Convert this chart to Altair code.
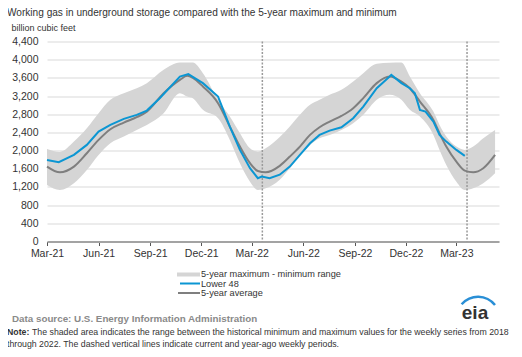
import altair as alt
import pandas as pd

FONT = "Liberation Sans"

# ---------------- data ----------------
dates_5yr = ["2021-03-01", "2021-03-24", "2021-04-18", "2021-05-11", "2021-06-01", "2021-06-22",
             "2021-07-16", "2021-08-08", "2021-08-26", "2021-09-25", "2021-10-24", "2021-11-06",
             "2021-11-16", "2021-12-04", "2021-12-31", "2022-01-21", "2022-02-08", "2022-02-26",
             "2022-03-12", "2022-03-26", "2022-04-20", "2022-05-08", "2022-05-26", "2022-06-13",
             "2022-06-30", "2022-07-18", "2022-08-08", "2022-08-29", "2022-09-16", "2022-10-10",
             "2022-11-02", "2022-11-23", "2022-12-08", "2022-12-26", "2023-01-19", "2023-01-30",
             "2023-02-11", "2023-03-01", "2023-03-16", "2023-03-31", "2023-04-18", "2023-05-09"]
avg_5yr = [1648, 1523, 1648, 1942, 2235, 2470, 2616, 2735, 2858, 3263, 3556, 3644,
           3600, 3409, 3043, 2528, 2088, 1722, 1552, 1523, 1665, 1868, 2088, 2345,
           2514, 2638, 2763, 2933, 3153, 3484, 3629, 3519, 3373, 3079, 2675, 2382,
           2088, 1758, 1560, 1523, 1612, 1905]
max_5yr = [2037, 1970, 2198, 2492, 2823, 3116, 3263, 3373, 3484, 3777, 3937, 3937,
           3937, 3704, 3116, 2748, 2382, 2052, 1977, 2052, 2300, 2528, 2786, 3006,
           3116, 3226, 3336, 3519, 3704, 3908, 3930, 3937, 3629, 3263, 2858, 2565,
           2308, 2088, 2015, 2088, 2272, 2455]
min_5yr = [1244, 1134, 1281, 1574, 1905, 2162, 2308, 2455, 2565, 2823, 3263, 3189,
           3150, 2896, 2712, 2235, 1722, 1317, 1134, 1171, 1360, 1612, 1905, 2125,
           2272, 2345, 2455, 2602, 2786, 3116, 3226, 3116, 2896, 2748, 2345, 2015,
           1685, 1317, 1134, 1171, 1281, 1501]

dates_l48 = ["2021-03-01", "2021-03-22", "2021-04-18", "2021-05-11", "2021-06-01", "2021-06-22",
             "2021-07-16", "2021-08-08", "2021-08-26", "2021-09-18", "2021-10-24", "2021-11-08",
             "2021-12-04", "2021-12-31", "2022-01-21", "2022-02-08", "2022-02-26", "2022-03-12",
             "2022-03-19", "2022-04-02", "2022-04-20", "2022-05-08", "2022-05-26", "2022-06-13",
             "2022-06-30", "2022-07-18", "2022-08-08", "2022-08-29", "2022-09-16", "2022-10-10",
             "2022-11-02", "2022-11-05", "2022-11-23", "2022-12-08", "2022-12-17", "2022-12-26",
             "2023-01-05", "2023-01-19", "2023-01-30", "2023-02-11", "2023-03-01", "2023-03-16"]
lower48 = [1795, 1744, 1905, 2125, 2418, 2565, 2697, 2786, 2880, 3153, 3629, 3682,
           3484, 3189, 2528, 2015, 1612, 1392, 1427, 1392, 1470, 1648, 1905, 2162,
           2345, 2440, 2514, 2712, 2968, 3373, 3629, 3666, 3484, 3373, 3263, 2896,
           2858, 2638, 2345, 2198, 2015, 1883]

current_weeks = ["2022-03-20", "2023-03-20"]

y_ticks = [0, 400, 800, 1200, 1600, 2000, 2400, 2800, 3200, 3600, 4000, 4400]
x_tick_months = [(2021, 3), (2021, 6), (2021, 9), (2021, 12), (2022, 3), (2022, 6),
                 (2022, 9), (2022, 12), (2023, 3)]

title_text = "Working gas in underground  storage compared with the 5-year maximum and minimum"
units_text = "billion cubic feet"
legend_labels = ["5-year maximum - minimum range", "Lower 48", "5-year average"]
source_text = "Data source:  U.S. Energy Information Administration"
note_label = "Note:"
note_line1 = ("The shaded area indicates the range between the historical minimum and maximum "
              "values for the weekly series from 2018")
note_line2 = "through 2022. The dashed vertical lines indicate current and year-ago weekly periods."

# ---------------- frames ----------------
df5 = pd.DataFrame({"date": pd.to_datetime(dates_5yr), "avg": avg_5yr,
                    "high": max_5yr, "low": min_5yr})
dfl = pd.DataFrame({"date": pd.to_datetime(dates_l48), "value": lower48})
dfr = pd.DataFrame({"date": pd.to_datetime(current_weeks)})

x_scale = alt.Scale(domain=[alt.DateTime(year=2021, month=3, date=1),
                            alt.DateTime(year=2023, month=5, date=16)])
y_scale = alt.Scale(domain=[0, 4400], nice=False, zero=True)

x_axis = alt.Axis(values=[alt.DateTime(year=y, month=m, date=1) for y, m in x_tick_months],
                  format="%b-%y", title=None, grid=False, domainColor="#a3a3a3",
                  domainWidth=2, tickColor="#555555", tickSize=4, labelPadding=3,
                  labelFlush=False, labelFont=FONT, labelFontSize=10.5,
                  labelColor="#333333", labelOverlap=False)
y_axis = alt.Axis(values=y_ticks, format=",.0f", title=None, domain=False, ticks=False,
                  grid=True, gridColor="#d9d9d9", gridWidth=1, labelPadding=9,
                  labelFlush=False, labelFont=FONT, labelFontSize=10.5, labelColor="#333333")

X = alt.X("date:T", scale=x_scale, axis=x_axis)

band = alt.Chart(df5).mark_area(color="#d5d5d5", opacity=1, interpolate="monotone").encode(
    x=X,
    y=alt.Y("low:Q", scale=y_scale, axis=y_axis),
    y2="high:Q",
)
rules = alt.Chart(dfr).mark_rule(color="#9a9a9a", strokeDash=[2, 1.5], strokeWidth=1.5).encode(
    x=X)
avg_line = alt.Chart(df5).mark_line(color="#7f7f7f", strokeWidth=2,
                                    interpolate="monotone").encode(
    x=X, y=alt.Y("avg:Q", scale=y_scale, axis=y_axis))
l48_line = alt.Chart(dfl).mark_line(color="#0b96d3", strokeWidth=2).encode(
    x=X, y=alt.Y("value:Q", scale=y_scale, axis=y_axis))


def text_layer(txt, x, y, size, color="#333333", weight="normal", align="left"):
    return alt.Chart(pd.DataFrame({"t": [txt]})).mark_text(
        font=FONT, fontSize=size, color=color, fontWeight=weight, align=align,
        baseline="middle").encode(text="t:N", x=alt.value(x), y=alt.value(y))


one = pd.DataFrame({"k": [0]})
leg_rect = alt.Chart(one).mark_rect(color="#d5d5d5").encode(
    x=alt.value(130), x2=alt.value(153), y=alt.value(231), y2=alt.value(235))
leg_blue = alt.Chart(one).mark_rule(color="#0b96d3", strokeWidth=2).encode(
    x=alt.value(133), x2=alt.value(153), y=alt.value(242))
leg_gray = alt.Chart(one).mark_rule(color="#7f7f7f", strokeWidth=2).encode(
    x=alt.value(131), x2=alt.value(153), y=alt.value(251.5))

logo_arc = alt.Chart(one).mark_arc(color="#2a8fd6", radius=23, radius2=20.5,
                                   theta=5.43, theta2=7.18).encode(
    x=alt.value(431), y=alt.value(277))

texts = [
    text_layer(title_text, -40, -28.5, 10.1, "#333333"),
    text_layer(units_text, -35.5, -13.5, 9, "#333333"),
    text_layer(legend_labels[0], 154, 232.5, 9.2),
    text_layer(legend_labels[1], 154, 242, 9.2),
    text_layer(legend_labels[2], 154, 251.5, 9.2),
    text_layer(source_text, -35, 277, 9.8, "#8a8a8a", "bold"),
    text_layer(note_label, -40, 290, 8.75, "#333333", "bold"),
    text_layer(note_line1, -15, 290, 8.75),
    text_layer(note_line2, -40, 302.5, 8.75),
    text_layer("eia", 428, 271, 19, "#333333", "bold", "center"),
]

chart = alt.layer(band, rules, avg_line, l48_line, leg_rect, leg_blue, leg_gray, logo_arc,
                  *texts).properties(
    width=452, height=200,
    autosize=alt.AutoSizeParams(type="none"),
    padding={"left": 39, "top": 33.5, "right": 15, "bottom": 107.5},
).configure_view(stroke=None)

chart.save("out.html", embed_options={"renderer": "svg", "actions": False})
